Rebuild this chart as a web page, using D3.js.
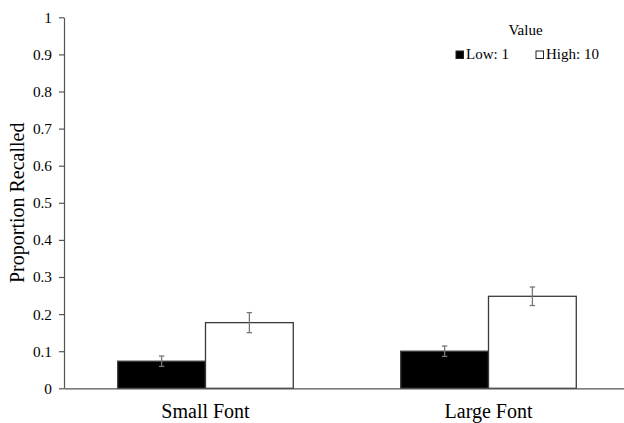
<!DOCTYPE html>
<html><head><meta charset="utf-8">
<script src="https://cdn.jsdelivr.net/npm/d3@7"></script>
<style>body{margin:0;background:#fff;}svg{display:block;font-family:"Liberation Serif","Times New Roman",serif;}</style>
</head><body><svg id="c" width="624" height="423"></svg>
<script>
const categories = ["Small Font", "Large Font"];
const seriesNames = ["Low: 1", "High: 10"];
const lowValues = [0.073, 0.100];
const highValues = [0.177, 0.248];
const lowErrors = [0.014, 0.014];
const highErrors = [0.027, 0.025];
const yTicks = [0, 0.1, 0.2, 0.3, 0.4, 0.5, 0.6, 0.7, 0.8, 0.9, 1];
const yTickLabels = ["0", "0.1", "0.2", "0.3", "0.4", "0.5", "0.6", "0.7", "0.8", "0.9", "1"];
const legendTitle = "Value";
const yTitle = "Proportion Recalled";
const colors = ["#000000", "#ffffff"];

const FONT = '"Liberation Serif","Times New Roman",serif';
const svg = d3.select("#c");
const x0 = d3.scaleBand().domain(categories).range([64, 630]).paddingInner(0).paddingOuter(0);
const x1 = d3.scaleBand().domain(seriesNames).range([0, x0.bandwidth()]).paddingInner(0).paddingOuter(0.612);
const y = d3.scaleLinear().domain([0, 1]).range([388.3, 17.3]);

const rows = [];
categories.forEach((c, i) => {
  rows.push({cat: c, s: seriesNames[0], v: lowValues[i], e: lowErrors[i], col: colors[0]});
  rows.push({cat: c, s: seriesNames[1], v: highValues[i], e: highErrors[i], col: colors[1]});
});

// bars
svg.append("g").selectAll("rect").data(rows).join("rect")
  .attr("x", d => x0(d.cat) + x1(d.s))
  .attr("y", d => y(d.v))
  .attr("width", x1.bandwidth())
  .attr("height", d => y(0) - y(d.v))
  .attr("fill", d => d.col)
  .attr("stroke", "#3a3a3a")
  .attr("stroke-width", 1.3);

// error bars
const eg = svg.append("g").attr("stroke", "#777").attr("stroke-width", 1.3);
rows.forEach(d => {
  const cx = x0(d.cat) + x1(d.s) + x1.bandwidth() / 2;
  eg.append("line").attr("x1", cx).attr("x2", cx).attr("y1", y(d.v + d.e)).attr("y2", y(d.v - d.e));
  eg.append("line").attr("x1", cx - 2.7).attr("x2", cx + 2.7).attr("y1", y(d.v + d.e)).attr("y2", y(d.v + d.e));
  eg.append("line").attr("x1", cx - 2.7).attr("x2", cx + 2.7).attr("y1", y(d.v - d.e)).attr("y2", y(d.v - d.e));
});

// y axis
const yAxis = d3.axisLeft(y).tickValues(yTicks).tickFormat((d, i) => yTickLabels[i]).tickSize(5).tickSizeOuter(0).tickPadding(7);
const ya = svg.append("g").attr("transform", "translate(64,0)").call(yAxis);
ya.selectAll("path,line").attr("stroke", "#555").attr("stroke-width", 1.2);
ya.selectAll("text").attr("font-size", 15.3).attr("fill", "#000").style("font-family", FONT);

// x axis
const xAxis = d3.axisBottom(x0).tickSize(0).tickSizeOuter(0).tickPadding(16);
const xa = svg.append("g").attr("transform", `translate(0,${y(0)})`).call(xAxis);
xa.select("path").attr("stroke", "#555").attr("stroke-width", 1.2);
xa.selectAll("text").attr("font-size", 20).attr("fill", "#000").style("font-family", FONT);

// y title
svg.append("text").attr("transform", `translate(24,${(y(0) + y(1)) / 2}) rotate(-90)`)
  .attr("text-anchor", "middle").attr("font-size", 20).attr("fill", "#000").style("font-family", FONT).text(yTitle);

// legend
svg.append("text").attr("x", 525.5).attr("y", 34.5).attr("text-anchor", "middle").attr("font-size", 15).attr("fill", "#000").style("font-family", FONT).text(legendTitle);
const legX = [456, 536];
seriesNames.forEach((s, i) => {
  svg.append("rect").attr("x", legX[i]).attr("y", 51).attr("width", 7.5).attr("height", 7.5)
    .attr("fill", colors[i]).attr("stroke", "#222").attr("stroke-width", 1);
  svg.append("text").attr("x", legX[i] + 10).attr("y", 59).attr("font-size", 15).attr("fill", "#000").style("font-family", FONT).text(s);
});
</script></body></html>
